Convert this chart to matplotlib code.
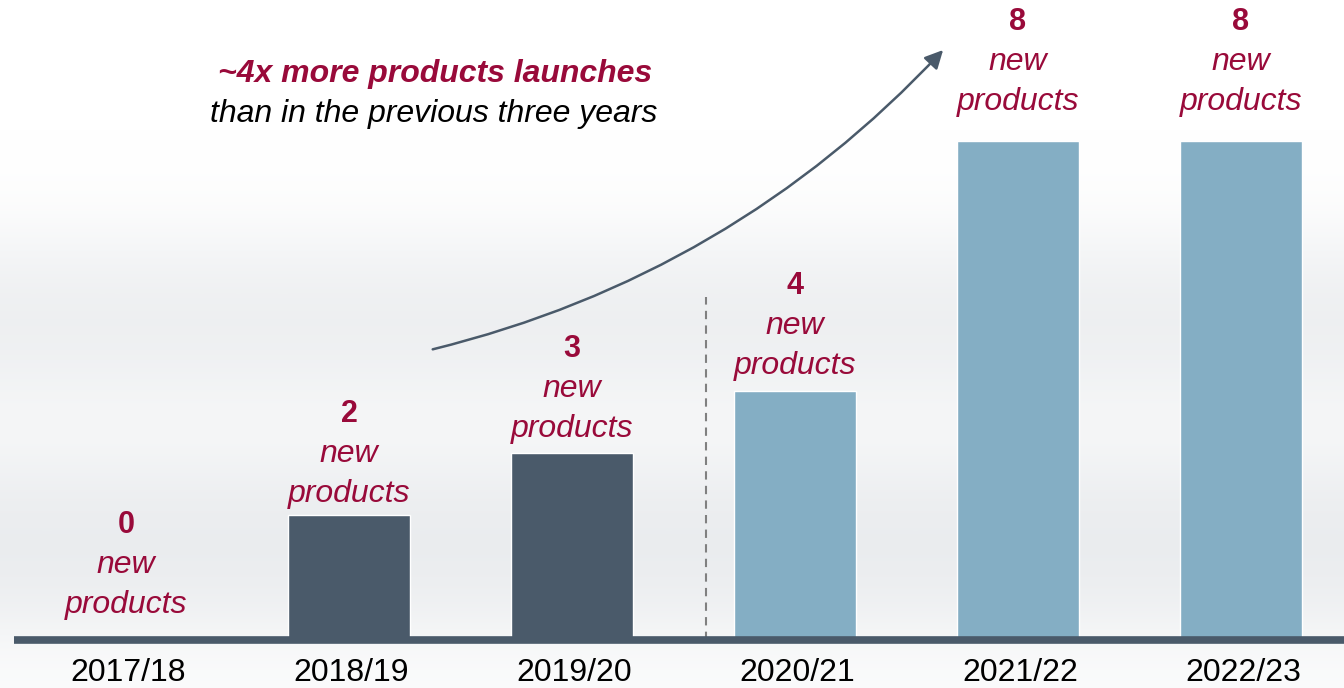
import numpy as np
import matplotlib.pyplot as plt
from matplotlib.colors import LinearSegmentedColormap

years = ["2017/18", "2018/19", "2019/20", "2020/21", "2021/22", "2022/23"]
launches = [0, 2, 3, 4, 8, 8]
bar_colors = ["#4a5a6a", "#4a5a6a", "#4a5a6a", "#84aec4", "#84aec4", "#84aec4"]
label_lift = [115, 101, 104, 105, 119, 119]  # px above bar top for the number
headline = "~4x more products launches"
subline = "than in the previous three years"

RED = "#990a3a"
DARK = "#4a5a6a"

plt.rcParams['font.family'] = ['Liberation Sans', 'DejaVu Sans']

fig = plt.figure(figsize=(13.44, 6.88), dpi=100)
ax = fig.add_axes([0, 0, 1, 1])

# bar centres 223 px apart, baseline at 640 px
x = np.arange(len(years))
ax.set_xlim(-0.565, 5.462)
ax.set_ylim(-0.77, 10.27)
ax.axis("off")

# soft grey background bands
grad = np.array([0, 0, 0, 0.05, 0.4, 0.65, 0.5, 0.25, 0.6, 0.75, 0.6, 0.15])[:, None]
cmap = LinearSegmentedColormap.from_list("bg", ["#ffffff", "#e2e5e8"])
ax.imshow(grad, extent=(-0.565, 5.462, -0.77, 10.27), aspect="auto",
          cmap=cmap, vmin=0, vmax=1, interpolation="bicubic", zorder=0)

ax.bar(x, launches, width=0.55, color=bar_colors, edgecolor="white",
       linewidth=1, zorder=2)

ax.plot([-0.5, 5.462], [0, 0], color=DARK, lw=5.5, solid_capstyle="butt", zorder=3)
ax.plot([2.6, 2.6], [0, 5.5], color="#808080", lw=1.5, ls=(0, (4, 3)), zorder=1)

for xi, v, yr, lift in zip(x, launches, years, label_lift):
    ax.annotate(str(v), (xi, v), xytext=(0, lift), textcoords="offset pixels",
                ha="center", va="center", fontsize=22, fontweight="bold", color=RED)
    ax.annotate("new", (xi, v), xytext=(0, lift - 40), textcoords="offset pixels",
                ha="center", va="center", fontsize=23, style="italic", color=RED)
    ax.annotate("products", (xi, v), xytext=(0, lift - 80), textcoords="offset pixels",
                ha="center", va="center", fontsize=23, style="italic", color=RED)
    ax.annotate(yr, (xi, 0), xytext=(2, -33), textcoords="offset pixels",
                ha="center", va="center", fontsize=23, color="black")

fig.text(0.324, 0.892, headline, ha="center", va="center", fontsize=23,
         fontweight="bold", style="italic", color=RED)
fig.text(0.323, 0.834, subline, ha="center", va="center", fontsize=23,
         style="italic", color="black")

ax.annotate("", xy=(945, 640), xycoords="figure pixels",
            xytext=(430, 338), textcoords="figure pixels",
            arrowprops=dict(arrowstyle="-|>,head_length=1.1,head_width=0.55",
                            color=DARK, lw=1.8,
                            connectionstyle="arc3,rad=0.15"))

fig.savefig("out.png", dpi=100)
